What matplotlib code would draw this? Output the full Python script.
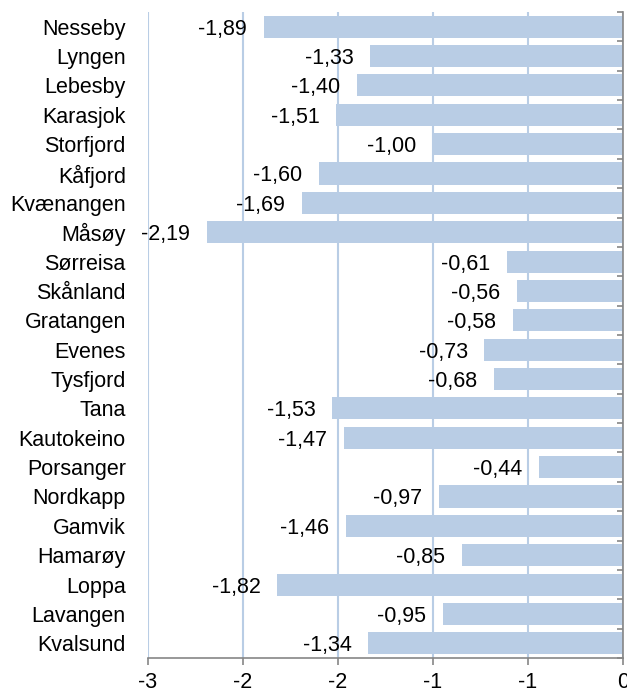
import matplotlib
matplotlib.use("Agg")
import matplotlib.pyplot as plt
import numpy as np

# kommuner, top to bottom as in the chart
kommuner = ["Nesseby", "Lyngen", "Lebesby", "Karasjok", "Storfjord", "Kåfjord",
            "Kvænangen", "Måsøy", "Sørreisa", "Skånland", "Gratangen", "Evenes",
            "Tysfjord", "Tana", "Kautokeino", "Porsanger", "Nordkapp", "Gamvik",
            "Hamarøy", "Loppa", "Lavangen", "Kvalsund"]
verdier = [-1.89, -1.33, -1.40, -1.51, -1.00, -1.60, -1.69, -2.19, -0.61, -0.56,
           -0.58, -0.73, -0.68, -1.53, -1.47, -0.44, -0.97, -1.46, -0.85, -1.82,
           -0.95, -1.34]
xticks = [-2.5, -2.0, -1.5, -1.0, -0.5, 0.0]
xtick_labels = ["-3", "-2", "-2", "-1", "-1", "0"]

bar_col = "#b9cde5"
axis_col = "#868686"

plt.rcParams['font.family'] = ['Liberation Sans', 'DejaVu Sans']
plt.rcParams['font.size'] = 15.5

fig = plt.figure(figsize=(6.27, 6.93), dpi=100)
ax = fig.add_axes([148/627, 1 - 658/693, (623 - 148)/627, (658 - 12)/693])

y = np.arange(len(kommuner))
ax.barh(y, verdier, height=0.75, color=bar_col, zorder=2)

# data labels, Excel style with comma decimals
for yi, v in zip(y, verdier):
  ax.annotate(f"{v:.2f}".replace(".", ","), xy=(v, yi), xytext=(-12, 0),
              textcoords="offset points", ha="right", va="center_baseline", zorder=3)

ax.set_xlim(-2.5, 0)
ax.set_ylim(len(kommuner) - 0.5, -0.5)

ax.set_xticks(xticks)
ax.set_xticklabels(xtick_labels)
ax.set_yticks(y)
ax.set_yticklabels(kommuner)
ax.set_yticks(np.arange(len(kommuner) + 1) - 0.5, minor=True)

ax.grid(axis="x", color=bar_col, linewidth=1.5, zorder=0)
ax.set_axisbelow(True)

for s in ["left", "top"]:
  ax.spines[s].set_visible(False)
for s in ["right", "bottom"]:
  ax.spines[s].set_color(axis_col)
  ax.spines[s].set_linewidth(1.2)

ax.tick_params(axis="x", direction="out", length=5, width=1.2, color=axis_col, pad=5)
ax.tick_params(axis="y", which="major", left=False, right=False, pad=12.5)
ax.tick_params(axis="y", which="minor", left=False, right=True, direction="in",
               length=4, width=1.2, color=axis_col)

fig.savefig("out.png", dpi=100)
